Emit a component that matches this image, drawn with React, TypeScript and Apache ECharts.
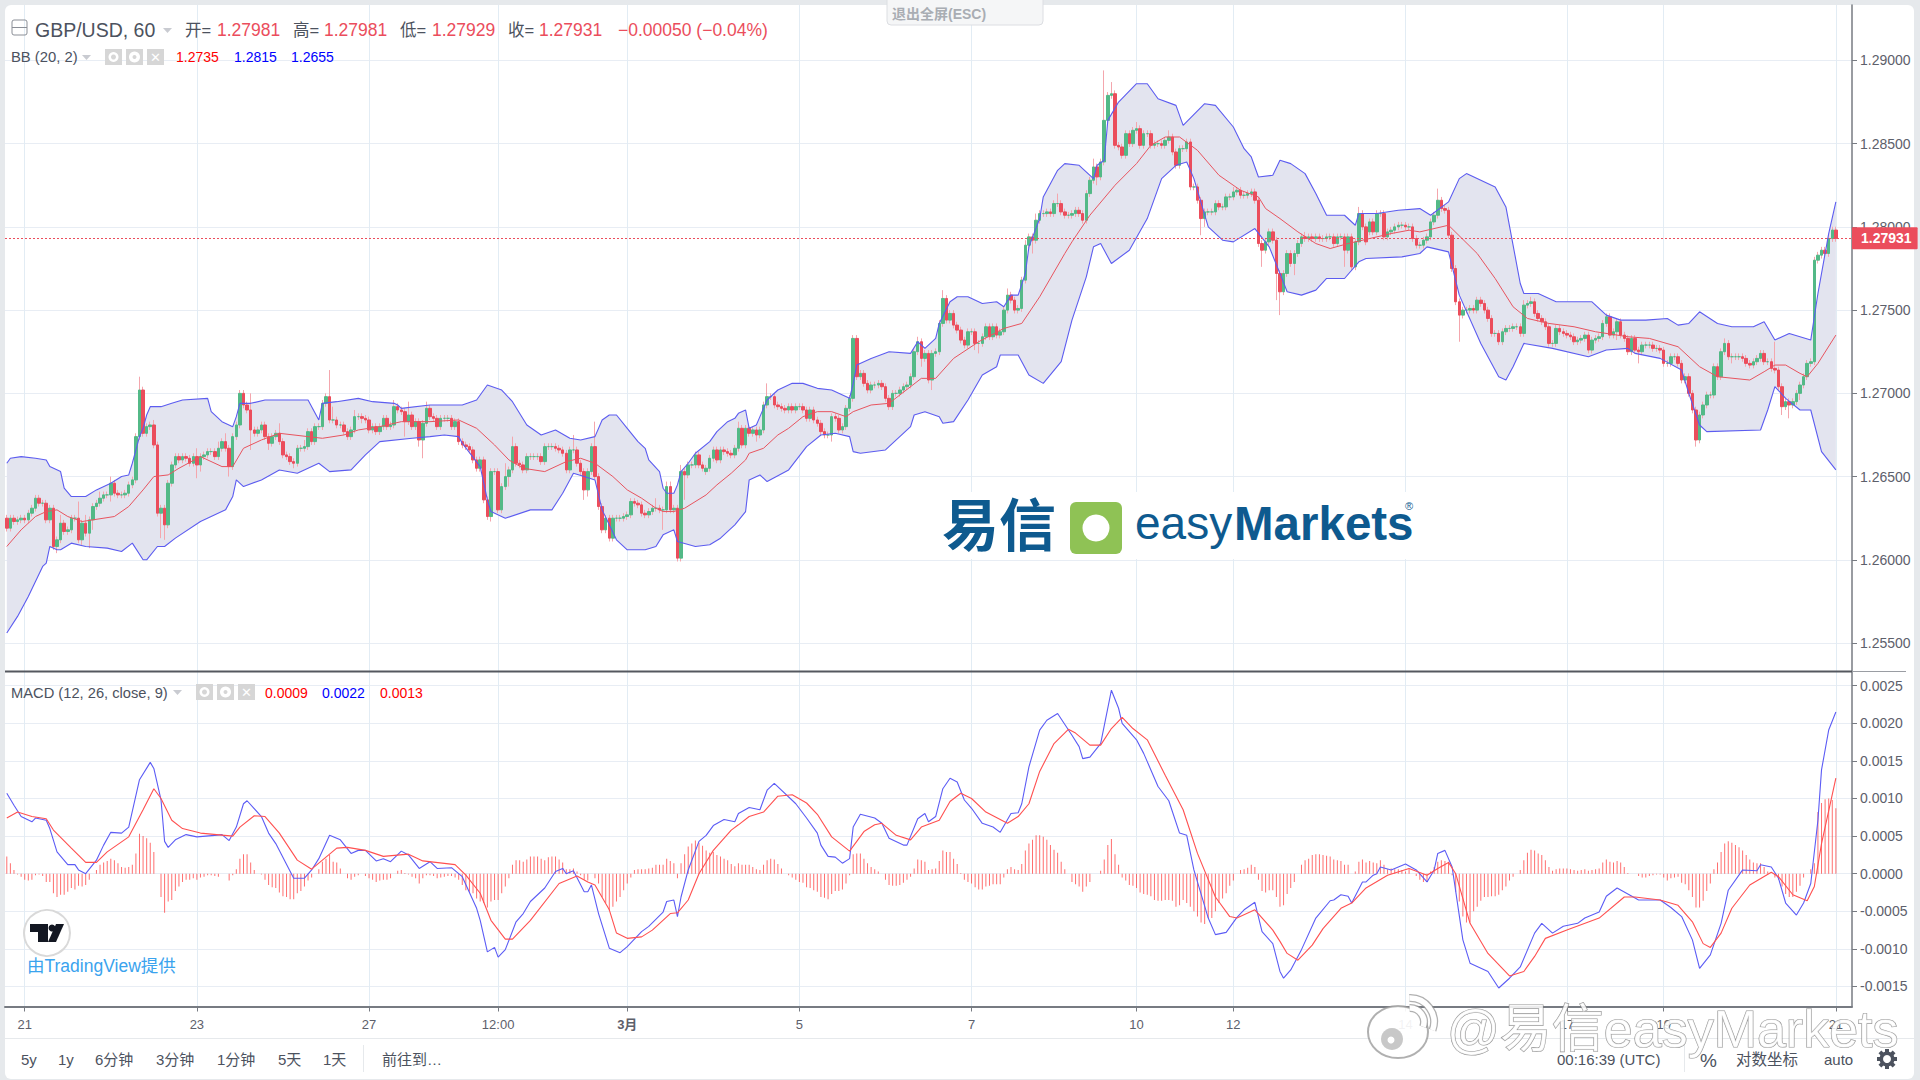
import React, { useEffect, useRef } from "react";
import * as echarts from "echarts";

// Prices are kept in pips above 1.25000; MACD values in units of 0.00001.
const basePrice = 1.25;
const tickLabels: [number, string][] = [[5, "21"], [53, "23"], [101, "27"], [137, "12:00"], [173, "3月"], [221, "5"], [269, "7"], [315, "10"], [342, "12"], [390, "14"], [435, "17"], [462, "19"], [510, "21"]];
const priceTicks = [1.255, 1.26, 1.265, 1.27, 1.275, 1.28, 1.285, 1.29];
const macdTicks = [-0.0015, -0.001, -0.0005, 0, 0.0005, 0.001, 0.0015, 0.002, 0.0025];

const opens = [
125,119,125,123,124,125,124,128,131,137,
134,134,124,131,108,112,122,117,118,125,
125,112,122,116,124,132,134,137,139,139,
146,140,139,139,140,145,148,174,202,176,
180,181,169,128,131,121,146,157,162,160,
162,161,158,162,157,162,163,165,165,162,
167,171,167,156,174,181,200,193,190,178,
176,178,181,174,170,174,176,171,163,162,
159,158,167,167,168,177,171,180,180,194,
198,184,184,181,181,177,174,178,186,186,
185,184,178,180,177,180,185,180,181,192,
190,189,183,187,180,183,172,182,191,186,
185,180,185,185,185,180,183,171,169,168,
166,160,155,160,136,126,153,153,130,144,
150,154,168,158,157,154,162,162,162,162,
159,168,168,168,167,166,164,154,166,166,
158,153,142,153,168,150,132,118,125,113,
125,125,125,126,127,135,134,133,128,127,
129,131,131,130,130,144,130,131,101,153,
151,157,157,163,157,153,155,161,166,160,
166,165,164,163,167,179,169,179,176,178,
175,178,193,198,198,193,192,191,190,192,
190,192,192,190,185,190,184,182,177,175,
175,186,185,178,180,191,197,233,210,212,
206,202,205,205,206,204,197,192,200,200,
202,204,205,210,225,231,221,224,208,224,
225,242,257,244,248,241,238,232,229,237,
237,230,230,234,240,234,240,235,237,250,
259,256,250,251,268,289,294,292,304,308,
308,309,308,314,314,309,307,307,308,310,
308,304,320,328,336,330,339,364,379,380,
349,348,343,356,350,358,359,349,356,356,
349,350,350,349,352,354,345,337,347,347,
351,324,324,316,305,309,309,309,314,312,
312,318,318,321,322,319,319,320,321,316,
290,286,291,297,292,272,261,272,284,278,
284,290,294,293,294,293,294,293,293,294,
294,290,294,294,286,294,276,291,308,300,
297,303,297,308,308,294,297,298,300,301,
301,300,300,293,289,289,292,294,303,307,
316,311,310,295,275,255,247,250,250,251,
250,256,254,250,245,236,236,231,237,239,
239,240,240,236,253,254,255,248,245,243,
240,230,230,239,237,236,235,234,231,232,
233,235,226,232,233,234,242,246,235,237,
243,235,233,225,233,226,225,229,229,229,
227,227,226,218,218,222,222,218,208,210,
200,190,172,187,193,199,199,216,210,225,
230,222,222,222,222,221,218,217,219,221,
224,219,219,215,214,204,192,195,193,195,
200,205,210,218,219,280,283,286,284,293,298.1];

const closes = [
119,125,123,124,125,124,128,131,137,134,
134,124,131,108,112,122,117,118,125,125,
112,122,116,124,132,134,137,139,139,146,
140,139,139,140,145,148,174,202,176,180,
181,169,128,131,121,146,157,162,160,162,
161,158,162,157,162,163,165,165,162,167,
171,167,156,174,181,200,193,190,178,176,
178,181,174,170,174,176,171,163,162,159,
158,167,167,168,177,171,180,180,194,198,
184,184,181,181,177,174,178,186,186,185,
184,178,180,177,180,185,180,181,192,190,
189,183,187,180,183,172,182,191,186,185,
180,185,185,185,180,183,171,169,168,166,
160,155,160,136,126,153,153,130,144,150,
154,168,158,157,154,162,162,162,162,159,
168,168,168,167,166,164,154,166,166,158,
153,142,153,168,150,132,118,125,113,125,
125,125,126,127,135,134,133,128,127,129,
131,131,130,130,144,130,131,101,153,151,
157,157,163,157,155,155,161,166,160,166,
165,164,163,167,179,169,179,176,178,175,
178,193,198,198,193,192,191,190,192,190,
192,192,190,185,190,184,182,177,175,175,
186,185,178,180,191,197,233,210,212,206,
202,205,205,206,204,197,192,200,200,202,
204,205,210,225,231,221,224,208,224,225,
242,257,244,248,241,238,232,229,237,237,
230,230,234,240,234,240,235,237,250,259,
256,250,251,268,289,294,292,304,308,308,
309,308,314,314,309,307,307,308,310,308,
304,320,328,336,330,339,364,379,380,349,
348,343,356,350,358,359,349,356,356,349,
350,350,349,352,354,345,337,347,347,351,
324,324,316,305,309,309,309,314,312,312,
318,318,321,322,319,319,320,321,316,290,
286,291,297,292,272,261,272,284,278,284,
290,294,293,294,293,294,293,293,294,294,
290,294,294,286,294,276,291,308,300,291,
303,297,308,308,294,297,298,300,301,301,
300,300,293,289,289,292,294,303,307,316,
311,310,295,275,255,247,250,250,251,250,
256,254,250,245,236,236,231,237,239,239,
240,240,236,253,254,255,248,245,243,240,
230,230,239,237,236,235,234,231,232,233,
235,226,232,233,234,242,246,235,237,243,
235,233,225,233,226,225,229,229,229,227,
227,226,218,218,222,222,218,208,210,200,
190,172,187,193,199,199,216,210,225,230,
222,222,222,222,221,218,217,219,221,224,
219,219,215,214,204,192,195,193,195,200,
205,210,218,219,280,283,286,284,293,298.1,293.1];

// Wicks: the ordinary length in pips, and the longer ones read one by one as [bar, pips].
const usualWick = 2;
const longWicksUp: [number, number][] = [[15,5],[20,10],[22,5],[26,4],[29,4],[37,8],[41,3],[53,5],[59,4],[61,5],[65,2],[68,10],[76,6],[83,4],[90,16],[91,8],[97,4],[108,4],[112,8],[117,4],[139,8],[141,6],[158,9],[164,15],[181,6],[184,3],[185,3],[188,4],[204,4],[212,8],[236,2],[254,3],[261,5],[279,4],[284,3],[287,4],[293,6],[303,5],[306,30],[308,7],[315,4],[324,4],[342,3],[362,3],[377,4],[399,7],[423,3],[425,3],[479,3],[493,16],[503,2]];
const longWicksDown: [number, number][] = [[14,4],[21,3],[23,9],[24,6],[29,4],[43,15],[44,9],[53,8],[54,4],[62,6],[68,12],[73,4],[80,3],[99,3],[111,9],[115,4],[116,11],[135,3],[140,6],[161,6],[162,4],[183,12],[189,15],[209,4],[230,4],[255,5],[258,6],[270,4],[271,6],[286,8],[304,5],[333,10],[334,5],[350,10],[354,16],[355,14],[359,7],[373,10],[405,16],[449,5],[455,7],[471,4],[481,4],[495,5],[497,8],[500,4]];

const upperBand: [number, number][] = [[0,158],[1,161],[4,162],[8,161],[11,160],[12,156],[15,153],[16,143],[18,138],[22,138],[25,142],[29,146],[32,150],[34,151],[35,158],[37,174],[38,179],[39,187],[40,192],[43,192],[46,194],[49,196],[56,197],[57,189],[60,183],[63,180],[64,186],[65,194],[68,194],[72,196],[78,196],[84,196],[87,184],[88,194],[92,195],[98,197],[102,195],[108,194],[109,193],[110,191],[118,193],[127,193],[131,196],[134,205],[138,202],[141,195],[145,181],[149,175],[153,178],[157,173],[160,172],[164,174],[166,184],[168,187],[170,187],[173,179],[176,171],[178,167],[179,160],[182,153],[183,143],[184,140],[186,140],[187,145],[188,153],[190,158],[192,164],[196,171],[198,177],[201,183],[203,185],[204,188],[206,190],[207,179],[209,181],[210,186],[212,196],[215,202],[219,206],[222,206],[226,203],[230,202],[235,197],[236,206],[237,217],[241,221],[246,225],[252,224],[254,231],[256,227],[259,233],[260,242],[263,255],[265,258],[268,258],[272,254],[276,255],[278,252],[280,259],[282,259],[284,272],[285,288],[288,305],[289,318],[293,334],[295,338],[299,337],[303,329],[304,337],[306,340],[307,364],[310,375],[315,386],[318,386],[321,377],[326,373],[328,361],[334,374],[337,373],[342,360],[345,347],[347,342],[349,330],[353,331],[355,340],[358,338],[362,332],[365,320],[368,307],[373,307],[376,301],[377,308],[382,308],[388,310],[394,311],[397,307],[402,315],[405,329],[407,332],[411,328],[415,324],[418,312],[422,266],[423,260],[427,260],[432,255],[442,255],[446,247],[450,244],[457,244],[463,245],[466,241],[469,242],[472,249],[477,242],[481,240],[487,240],[490,243],[493,232],[497,236],[503,232],[504,246],[505,260],[508,296],[510,315]];
const lowerBand: [number, number][] = [[0,56],[3,66],[6,78],[10,96],[11,98],[12,108],[14,106],[15,106],[18,110],[22,108],[28,107],[32,105],[35,110],[38,100],[39,100],[42,108],[44,108],[47,113],[54,123],[61,130],[63,138],[64,148],[66,144],[71,148],[76,154],[81,152],[87,158],[90,153],[96,154],[100,163],[104,171],[113,173],[118,174],[122,175],[126,174],[127,170],[132,156],[134,136],[135,129],[139,125],[146,130],[152,130],[155,140],[158,152],[161,150],[164,148],[166,130],[170,112],[173,106],[178,106],[181,108],[183,115],[186,118],[187,111],[192,108],[196,109],[199,113],[203,121],[206,129],[207,148],[210,151],[212,147],[218,154],[223,168],[227,175],[231,176],[235,174],[236,165],[238,164],[245,166],[252,180],[253,187],[256,189],[260,186],[261,182],[264,183],[268,196],[272,211],[276,216],[277,223],[282,223],[285,211],[289,206],[294,219],[297,244],[301,270],[303,288],[305,290],[308,278],[313,286],[318,305],[322,329],[326,337],[329,339],[331,329],[335,300],[339,292],[342,291],[348,299],[352,288],[355,272],[357,261],[361,259],[365,262],[368,269],[373,269],[377,279],[379,281],[389,282],[394,284],[396,288],[402,285],[405,259],[411,230],[416,210],[418,208],[420,216],[423,230],[431,227],[441,222],[446,226],[452,227],[454,224],[461,221],[467,214],[469,200],[472,181],[474,177],[489,178],[491,190],[493,204],[496,197],[500,190],[503,190],[506,165],[510,154]];
const middleBand: [number, number][] = [[0,108],[4,118],[8,126],[11,129],[14,130],[17,126],[21,123],[24,124],[30,126],[34,132],[38,142],[41,150],[45,151],[48,155],[54,162],[60,156],[63,156],[66,167],[71,172],[76,176],[84,174],[88,173],[94,175],[98,178],[104,180],[110,183],[118,183],[126,184],[131,179],[136,169],[140,160],[144,155],[150,153],[156,159],[160,161],[164,158],[169,150],[173,142],[177,137],[181,131],[183,129],[186,129],[189,131],[195,139],[198,145],[202,152],[206,160],[207,164],[211,167],[215,175],[218,179],[222,186],[226,189],[230,189],[234,186],[236,189],[241,193],[246,194],[255,209],[259,209],[264,221],[271,231],[278,239],[283,242],[288,258],[295,284],[297,291],[302,307],[309,325],[315,338],[319,349],[323,354],[327,354],[332,346],[338,331],[344,322],[349,318],[351,311],[355,305],[360,297],[365,290],[369,287],[374,290],[380,293],[386,296],[391,298],[394,297],[402,301],[410,284],[415,269],[420,252],[424,245],[430,242],[437,240],[443,237],[452,234],[458,233],[466,228],[472,216],[477,210],[486,208],[490,213],[493,217],[496,217],[500,212],[502,210],[505,218],[510,235]];

const macdLine: [number, number][] = [[0,107],[2,91],[4,76],[7,69],[8,74],[11,71],[12,60],[14,29],[17,12],[19,12],[20,5],[22,0],[25,18],[27,38],[29,55],[32,54],[34,62],[37,125],[40,148],[41,140],[43,98],[44,43],[45,35],[47,45],[50,52],[53,49],[58,51],[60,52],[62,44],[64,62],[66,93],[67,97],[71,76],[73,54],[75,40],[80,-6],[83,-6],[85,5],[87,20],[90,51],[93,45],[96,27],[98,31],[100,31],[103,17],[105,20],[107,16],[110,30],[112,25],[115,7],[118,16],[120,7],[124,8],[127,-4],[131,-46],[132,-62],[134,-104],[136,-98],[137,-111],[139,-101],[142,-64],[144,-53],[146,-37],[150,-19],[153,3],[155,7],[156,0],[158,4],[161,-24],[162,-24],[163,-15],[165,-53],[168,-99],[171,-105],[173,-97],[177,-77],[179,-70],[183,-51],[184,-37],[186,-35],[187,-57],[188,-31],[190,5],[193,43],[195,51],[197,64],[200,72],[203,69],[204,80],[207,88],[210,85],[212,111],[214,120],[220,93],[223,74],[226,54],[227,38],[229,23],[231,22],[233,14],[235,20],[236,62],[238,79],[242,74],[244,67],[246,47],[250,38],[251,38],[254,73],[256,80],[257,69],[259,76],[261,113],[263,127],[265,122],[267,98],[269,87],[272,67],[275,62],[277,55],[280,80],[282,81],[283,93],[285,142],[288,191],[290,204],[293,213],[297,184],[299,169],[300,153],[302,155],[305,173],[308,244],[310,220],[311,200],[315,178],[317,160],[318,149],[321,116],[324,97],[327,54],[329,51],[331,5],[335,-59],[337,-81],[340,-78],[343,-58],[345,-48],[348,-38],[350,-77],[353,-93],[355,-130],[356,-139],[358,-128],[361,-101],[365,-59],[369,-36],[370,-35],[372,-28],[374,-30],[375,-39],[378,-11],[379,-11],[381,-2],[382,0],[383,9],[386,5],[390,13],[393,5],[396,-11],[398,5],[399,27],[401,31],[403,9],[406,-88],[408,-119],[413,-130],[416,-152],[419,-139],[422,-124],[426,-79],[428,-66],[431,-79],[434,-70],[438,-66],[440,-59],[444,-51],[446,-30],[449,-19],[455,-35],[461,-35],[464,-45],[467,-57],[470,-88],[472,-126],[475,-108],[478,-66],[480,-22],[484,5],[488,4],[489,12],[492,9],[494,-6],[496,-39],[499,-55],[501,-39],[503,-13],[505,71],[506,138],[508,191],[510,215]];
const signalLine: [number, number][] = [[0,74],[3,82],[7,76],[11,73],[13,58],[18,34],[22,15],[25,15],[28,29],[34,49],[38,85],[41,113],[43,100],[46,71],[49,60],[54,54],[63,50],[65,62],[69,77],[72,76],[76,54],[81,18],[85,6],[88,18],[92,34],[95,35],[100,31],[105,23],[112,26],[116,17],[125,12],[128,-2],[132,-26],[135,-62],[139,-87],[141,-87],[146,-62],[154,-13],[159,-3],[162,-11],[164,-15],[168,-48],[170,-79],[173,-86],[177,-84],[180,-75],[185,-53],[187,-52],[190,-35],[193,0],[197,31],[202,58],[204,65],[207,76],[211,82],[215,103],[219,105],[223,94],[226,79],[230,49],[235,30],[239,56],[242,65],[244,67],[248,51],[252,45],[255,62],[260,71],[263,96],[266,107],[269,100],[273,82],[279,67],[282,76],[285,93],[288,136],[292,173],[296,192],[298,187],[302,171],[305,171],[308,193],[311,208],[314,193],[318,178],[323,131],[328,85],[332,27],[337,-31],[341,-57],[343,-59],[348,-48],[353,-75],[355,-90],[357,-106],[360,-115],[364,-95],[367,-73],[372,-46],[375,-39],[379,-19],[385,-2],[391,7],[396,-2],[399,7],[402,15],[404,0],[408,-66],[413,-106],[419,-136],[423,-130],[426,-110],[429,-86],[435,-75],[444,-59],[451,-31],[454,-31],[461,-35],[466,-42],[470,-64],[473,-93],[475,-98],[478,-79],[481,-46],[486,-15],[492,2],[494,-4],[498,-28],[502,-36],[504,-17],[506,40],[510,127]];
const histogram = [
23,14,5,-1,-4,-8,-9,-8,-2,-1,
-3,-11,-11,-26,-31,-28,-28,-24,-19,-21,
-16,-17,-15,-8,0,5,12,15,17,20,
18,14,9,8,9,12,27,53,50,47,
41,29,0,-31,-52,-37,-35,-23,-17,-11,
-8,-8,-6,-8,-5,-4,-2,-2,-3,-4,
0,0,-9,-2,6,20,26,26,15,5,
0,-1,-8,-15,-18,-19,-25,-30,-31,-34,
-34,-26,-23,-17,-9,-5,0,6,16,20,
25,16,15,7,0,-6,-8,-4,-2,0,
-3,-6,-8,-11,-9,-8,-8,-6,0,4,
5,1,-1,-4,-6,-13,-6,-2,-2,-3,
-6,-5,-4,-3,-3,-5,-8,-15,-22,-24,
-26,-33,-37,-39,-45,-37,-35,-35,-26,-17,
-6,12,18,18,16,19,23,23,23,20,
18,22,23,23,19,15,6,6,7,3,
-2,-8,-9,0,-6,-13,-31,-39,-49,-44,
-37,-31,-22,-13,-5,5,6,6,6,7,
8,12,12,12,20,17,14,-6,14,26,
36,40,44,41,37,31,28,29,25,23,
20,18,13,10,14,12,12,12,9,6,
5,12,18,20,19,13,7,0,-2,-5,
-8,-11,-12,-18,-19,-22,-24,-31,-32,-34,
-27,-23,-23,-21,-13,-2,26,27,27,20,
14,9,6,3,0,-8,-15,-16,-16,-15,
-12,-8,-4,7,19,18,16,5,6,7,
17,31,29,29,20,13,1,-8,-11,-13,
-18,-21,-21,-17,-16,-14,-14,-14,-5,6,
9,6,5,13,31,40,45,51,51,49,
45,38,32,28,16,6,0,-11,-14,-17,
-24,-17,-11,0,0,4,19,38,46,26,
12,-5,-9,-15,-16,-19,-25,-27,-28,-30,
-35,-36,-36,-35,-35,-36,-44,-42,-35,-39,
-44,-50,-57,-65,-67,-59,-59,-50,-39,-33,
-26,-16,-9,0,5,6,8,12,9,-8,
-23,-25,-22,-22,-31,-44,-42,-27,-19,-11,
0,12,18,20,25,26,26,25,24,23,
19,18,17,12,12,0,3,16,19,15,
17,15,14,18,12,6,7,6,6,5,
3,6,0,-3,-8,-11,-11,3,9,16,
18,17,16,-2,-24,-37,-57,-65,-65,-50,
-44,-36,-31,-31,-30,-30,-28,-22,-17,-9,
-4,0,5,18,28,32,31,27,25,18,
9,4,6,7,7,7,6,5,4,5,
6,4,5,6,7,15,19,16,15,17,
15,9,1,0,0,-3,-5,-5,-3,-2,
-1,-1,-5,-9,-6,-5,-4,-12,-14,-22,
-31,-45,-45,-36,-23,-13,6,15,29,40,
43,41,38,35,31,25,19,15,14,14,
9,3,0,-5,-8,-17,-27,-31,-31,-24,
-16,-5,0,6,14,82,94,99,100,98,87];

const BB_FILL = "#e3e4ef";
const RED = "#eb4d5c";
const GREEN = "#53b987";
const FONT = '"Liberation Sans","Noto Sans CJK SC",sans-serif';
const GREY = "#4c525e";
const LABEL = "#5d606b";
const price = (p: number) => +(basePrice + p / 10000).toFixed(5);
const macd = (v: number) => v / 100000;
const N = 515;
const lastBar = closes.length - 1;

function App() {
  const ref = useRef<HTMLDivElement>(null);
  useEffect(() => {
    document.body.style.margin = "0";
    document.body.style.background = "#e6e9ec";
    const chart = echarts.init(ref.current!, null, { renderer: "svg" });
    const categories = Array.from({ length: N }, () => "");
    tickLabels.forEach(([i, t]) => { categories[i] = t; });
    const isTick = (_: number, v: string) => v !== "";
    const upW = new Map(longWicksUp), dnW = new Map(longWicksDown);
    const fullBars = closes.map((c, i) => [price(opens[i]), price(c), price(Math.min(opens[i], c) - (dnW.get(i) ?? usualWick)), price(Math.max(opens[i], c) + (upW.get(i) ?? usualWick))]);
    const bodies = closes.map((c, i) => [price(opens[i]), price(c), price(Math.min(opens[i], c)), price(Math.max(opens[i], c))]);
    const line = (name: string, pts: [number, number][], conv: (v: number) => number, color: string, idx: number, width = 1) => ({
      name, type: "line", xAxisIndex: idx, yAxisIndex: idx, showSymbol: false, symbol: "none", smooth: false, z: 6, silent: true,
      lineStyle: { color, width }, data: pts.map(([i, v]) => [i, conv(v)]), encode: { x: 0, y: 1 },
    });
    const txt = (text: string, x: number, y: number, size: number, fill: string, extra: any = {}) => ({
      type: "text", x, y, z: 50, silent: true,
      style: { text, fill, font: `${extra.weight || "normal"} ${size}px ${FONT}`, verticalAlign: "middle", align: extra.align || "left", opacity: extra.opacity ?? 1, stroke: extra.stroke, lineWidth: extra.lineWidth },
    });
    const box = (x: number, y: number, w: number, h: number, fill: string, r = 0, extra: any = {}) => ({ type: "rect", z: extra.z ?? 40, silent: true, shape: { x, y, width: w, height: h, r }, style: { fill, stroke: extra.stroke, lineWidth: extra.lineWidth } });
    const tri = (x: number, y: number) => ({ type: "polygon", z: 50, silent: true, shape: { points: [[x, y], [x + 9, y], [x + 4.5, y + 5]] }, style: { fill: "#c9cbd1" } });
    const iconSet = (xs: number[], y: number) => xs.flatMap((x, k) => [
      box(x, y, 17, 16, "#d6d6d6", 0),
      k === 0 ? { type: "ring", z: 51, silent: true, shape: { cx: x + 8.5, cy: y + 8, r: 5, r0: 2.5 }, style: { fill: "#fff" } }
        : k === 1 ? { type: "ring", z: 51, silent: true, shape: { cx: x + 8.5, cy: y + 8, r: 5.5, r0: 2 }, style: { fill: "#fff" } }
          : txt("✕", x + 8.5, y + 8.5, 13, "#fff", { align: "center" }),
    ]);
    const gearTeeth = [0, 45, 90, 135].map((a) => ({ type: "rect", z: 51, silent: true, x: 1887, y: 1059, rotation: (a * Math.PI) / 180, shape: { x: -2, y: -10, width: 4, height: 20 }, style: { fill: GREY } }));
    const weiboArc = (r: number) => [
      { type: "arc", z: 60, silent: true, shape: { cx: 1410, cy: 1022, r, startAngle: -1.6, endAngle: 0.35 }, style: { fill: "none", stroke: "rgba(150,150,150,0.75)", lineWidth: 8 } },
      { type: "arc", z: 61, silent: true, shape: { cx: 1410, cy: 1022, r, startAngle: -1.6, endAngle: 0.35 }, style: { fill: "none", stroke: "#ffffff", lineWidth: 5.5 } },
    ];
    const graphicEls: any[] = [
      // pane separator
      { type: "line", z: 30, silent: true, shape: { x1: 5, y1: 671.5, x2: 1852, y2: 671.5 }, style: { stroke: "#55585f", lineWidth: 2 } },
      { type: "line", z: 30, silent: true, shape: { x1: 1852, y1: 671.5, x2: 1906, y2: 671.5 }, style: { stroke: "#9a9da3", lineWidth: 1 } },
      // header
      { type: "rect", z: 50, silent: true, shape: { x: 12, y: 20, width: 15, height: 15, r: 2 }, style: { fill: "none", stroke: "#8b8f97", lineWidth: 1 } },
      { type: "line", z: 50, silent: true, shape: { x1: 12, y1: 27.5, x2: 27, y2: 27.5 }, style: { stroke: "#8b8f97", lineWidth: 1 } },
      txt("GBP/USD, 60", 35, 30, 19.5, GREY), tri(163, 28),
      txt("开=", 185, 30, 16.5, GREY), txt("1.27981", 217, 30, 17.5, RED),
      txt("高=", 293, 30, 16.5, GREY), txt("1.27981", 324, 30, 17.5, RED),
      txt("低=", 400, 30, 16.5, GREY), txt("1.27929", 432, 30, 17.5, RED),
      txt("收=", 508, 30, 16.5, GREY), txt("1.27931", 539, 30, 17.5, RED),
      txt("−0.00050 (−0.04%)", 618, 30, 17.5, RED),
      txt("BB (20, 2)", 11, 56.5, 14.8, GREY), tri(82, 55), ...iconSet([105, 126, 147], 49),
      txt("1.2735", 176, 56.5, 14, "#ff0000"), txt("1.2815", 234, 56.5, 14, "#0000ff"), txt("1.2655", 291, 56.5, 14, "#0000ff"),
      txt("MACD (12, 26, close, 9)", 11, 692.5, 14.7, GREY), tri(173, 690), ...iconSet([196, 217, 238], 684),
      txt("0.0009", 265, 693, 14, "#ff0000"), txt("0.0022", 322, 693, 14, "#0000ff"), txt("0.0013", 380, 693, 14, "#ff0000"),
      // exit full screen hint
      box(887, -4, 156, 29, "#f5f6f7", 4, { stroke: "#dcdee2", lineWidth: 1 }),
      txt("退出全屏(ESC)", 892, 14, 14, "#a9adb3", { weight: "bold" }),
      // easyMarkets logo
      box(941, 492, 483, 67, "#ffffff"),
      txt("易信", 942, 526, 57, "#0e5a8f", { weight: "bold" }),
      box(1070, 502, 52, 52, "#8fc255", 6, { z: 50 }),
      { type: "circle", z: 51, silent: true, shape: { cx: 1096, cy: 528, r: 13.5 }, style: { fill: "#fff" } },
      txt("easy", 1135, 523, 46, "#0e5a8f"), txt("Markets", 1234, 523, 47.5, "#0e5a8f", { weight: "bold" }),
      txt("®", 1405, 506, 11, "#0e5a8f"),
      // TradingView badge
      { type: "circle", z: 50, silent: true, shape: { cx: 47, cy: 933, r: 23 }, style: { fill: "#fff", stroke: "#d9d9d9", lineWidth: 2 } },
      { type: "polygon", z: 51, silent: true, shape: { points: [[30, 924], [48, 924], [48, 942], [38, 942], [38, 932], [30, 932]] }, style: { fill: "#131722" } },
      { type: "circle", z: 51, silent: true, shape: { cx: 52, cy: 928, r: 3.5 }, style: { fill: "#131722" } },
      { type: "polygon", z: 51, silent: true, shape: { points: [[56, 924], [64, 924], [56, 942], [48, 942]] }, style: { fill: "#131722" } },
      txt("由TradingView提供", 27, 966, 17.5, "#3aa3ee"),
      // toolbar
      { type: "line", z: 40, silent: true, shape: { x1: 5, y1: 1038.5, x2: 1915, y2: 1038.5 }, style: { stroke: "#e6e9ec", lineWidth: 1 } },
      txt("5y", 21, 1059, 15, GREY), txt("1y", 58, 1059, 15, GREY), txt("6分钟", 95, 1059, 15, GREY), txt("3分钟", 156, 1059, 15, GREY), txt("1分钟", 217, 1059, 15, GREY), txt("5天", 278, 1059, 15, GREY), txt("1天", 323, 1059, 15, GREY),
      { type: "line", z: 40, silent: true, shape: { x1: 363.5, y1: 1045, x2: 363.5, y2: 1072 }, style: { stroke: "#e6e9ec", lineWidth: 1 } },
      txt("前往到…", 382, 1059, 15, GREY),
      txt("00:16:39 (UTC)", 1557, 1059, 15, GREY),
      { type: "line", z: 40, silent: true, shape: { x1: 1684.5, y1: 1045, x2: 1684.5, y2: 1072 }, style: { stroke: "#e6e9ec", lineWidth: 1 } },
      txt("%", 1700, 1060, 19, GREY), txt("对数坐标", 1736, 1059, 15.5, GREY), txt("auto", 1824, 1059, 15, GREY),
      ...gearTeeth,
      { type: "circle", z: 52, silent: true, shape: { cx: 1887, cy: 1059, r: 7.5 }, style: { fill: GREY } },
      { type: "circle", z: 53, silent: true, shape: { cx: 1887, cy: 1059, r: 4 }, style: { fill: "#fff" } },
      // Weibo watermark
      { type: "ellipse", z: 60, silent: true, shape: { cx: 1398, cy: 1032, rx: 30, ry: 26 }, style: { fill: "rgba(255,255,255,0.92)", stroke: "rgba(150,150,150,0.75)", lineWidth: 2 } },
      { type: "circle", z: 61, silent: true, shape: { cx: 1392, cy: 1039, r: 11 }, style: { fill: "rgba(190,190,190,0.85)" } },
      { type: "circle", z: 62, silent: true, shape: { cx: 1391, cy: 1040, r: 3.5 }, style: { fill: "#fff" } },
      ...weiboArc(14), ...weiboArc(24),
      { type: "text", x: 1447, y: 1029, z: 60, silent: true, style: { text: "@易信easyMarkets", font: `52px ${FONT}`, fill: "rgba(255,255,255,0.85)", stroke: "rgba(130,130,130,0.85)", lineWidth: 1.2, verticalAlign: "middle" } },
    ];

    chart.setOption({
      animation: false,
      graphic: graphicEls,
      grid: [
        { left: 5, top: 5, width: 1847, height: 666 },
        { left: 5, top: 672, width: 1847, height: 334.5 },
      ],
      xAxis: [0, 1].map((gi) => ({
        type: "category", gridIndex: gi, data: categories, boundaryGap: true,
        axisLine: gi === 1 ? { show: true, onZero: false, lineStyle: { color: "#777b82", width: 2 } } : { show: false },
        axisTick: gi === 1 ? { show: true, alignWithLabel: true, interval: isTick, length: 5, lineStyle: { color: "#777b82" } } : { show: false, alignWithLabel: true, interval: isTick },
        splitLine: { show: true, alignWithLabel: true, interval: isTick, lineStyle: { color: "#e2ecf4", width: 1 } },
        axisLabel: gi === 1 ? {
          show: true, interval: isTick, margin: 11, fontSize: 13, color: LABEL, fontFamily: FONT, hideOverlap: false,
          formatter: (v: string) => (v === "3月" ? "{b|3月}" : v), rich: { b: { fontWeight: "bold", fontSize: 13, color: LABEL, fontFamily: FONT } },
        } : { show: false },
      })),
      yAxis: [
        {
          type: "value", gridIndex: 0, position: "right", min: 1.25332, max: 1.29333, scale: true,
          axisLine: { show: true, lineStyle: { color: "#777b82", width: 1.5 } },
          axisTick: { show: true, length: 5, customValues: priceTicks, lineStyle: { color: "#777b82" } },
          axisLabel: { show: true, customValues: priceTicks, formatter: (v: number) => v.toFixed(5), fontSize: 14, color: LABEL, fontFamily: FONT, margin: 8, showMinLabel: true, showMaxLabel: true },
          splitLine: { show: true, lineStyle: { color: "#e8edf4", width: 1 } },
        },
        {
          type: "value", gridIndex: 1, position: "right", min: -0.001766, max: 0.002682,
          axisLine: { show: true, lineStyle: { color: "#777b82", width: 1.5 } },
          axisTick: { show: true, length: 5, customValues: macdTicks, lineStyle: { color: "#777b82" } },
          axisLabel: { show: true, customValues: macdTicks, formatter: (v: number) => v.toFixed(4), fontSize: 14, color: LABEL, fontFamily: FONT, margin: 8 },
          splitLine: { show: true, lineStyle: { color: "#e8edf4", width: 1 } },
        },
      ],
      series: [
        {
          type: "custom", xAxisIndex: 0, yAxisIndex: 0, z: 1, silent: true, clip: true, data: [[0, price(100)]],
          renderItem: (_p: any, api: any) => {
            const pts = [...upperBand, ...[...lowerBand].reverse()].map(([i, v]) => api.coord([i, price(v)]));
            return { type: "polygon", shape: { points: pts }, style: { fill: BB_FILL } };
          },
        },
        {
          name: "wicks", type: "candlestick", xAxisIndex: 0, yAxisIndex: 0, z: 3, silent: true, barWidth: 1, data: fullBars,
          itemStyle: { color: "#f4a6ad", color0: "#f4a6ad", borderColor: "#f4a6ad", borderColor0: "#f4a6ad", borderWidth: 1 },
        },
      ].concat([
        {
          name: "GBP/USD", type: "candlestick", xAxisIndex: 0, yAxisIndex: 0, z: 4, silent: true, barWidth: 3, data: bodies,
          itemStyle: { color: GREEN, color0: RED, borderColor: GREEN, borderColor0: RED, borderWidth: 1 },
          markLine: {
            silent: true, symbol: "none", animation: false, precision: 5,
            data: [{ yAxis: price(closes[lastBar]) }],
            lineStyle: { color: RED, type: [2, 2], width: 1 },
            label: { show: true, position: "end", distance: 0, formatter: "1.27931", backgroundColor: RED, color: "#fff", fontWeight: "bold", fontSize: 14, fontFamily: FONT, padding: [4, 6, 4, 9], borderRadius: 1 },
            z: 20,
          },
        } as any,
        line("BB", middleBand, price, "#e8545f", 0) as any,
        line("BB upper", upperBand, price, "#5c5cf0", 0, 1.1) as any,
        line("BB lower", lowerBand, price, "#5c5cf0", 0, 1.1) as any,
        { name: "Histogram", type: "bar", xAxisIndex: 1, yAxisIndex: 1, barWidth: 1, z: 3, silent: true, data: histogram.map(macd), itemStyle: { color: "rgba(255,50,50,0.7)" } } as any,
        line("MACD", macdLine, macd, "#5c5cf5", 1, 1.1) as any,
        line("Signal", signalLine, macd, "#ff5050", 1, 1.1) as any,
      ]),
    });
    return () => chart.dispose();
  }, []);

  return (
    <div style={{ position: "relative", width: 1920, height: 1080, background: "#e6e9ec", overflow: "hidden" }}>
      <div style={{ position: "absolute", left: 5, top: 5, width: 1909, height: 1074, background: "#fff", borderRadius: 6 }} />
      <div ref={ref} style={{ position: "absolute", left: 0, top: 0, width: 1920, height: 1080 }} />
    </div>
  );
}

export default App;
